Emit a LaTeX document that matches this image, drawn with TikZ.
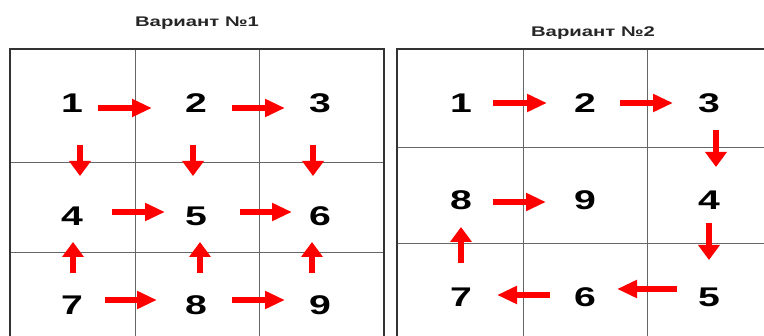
\documentclass[tikz,border=0pt]{standalone}
\usepackage{fontspec}
\usepackage{tikz}
\usetikzlibrary{arrows.meta}
\newfontfamily\varfont{Liberation Sans}[FakeStretch=1.45]

\tikzset{
  num/.style={font=\varfont\bfseries\fontsize{27}{27}\selectfont, inner sep=0pt},
  ttl/.style={font=\varfont\bfseries\fontsize{14}{14}\selectfont, text=black!85, inner sep=0pt},
  harr/.style={draw=red, line width=6pt, -{Triangle[length=20pt,width=17pt]}},
  varr/.style={draw=red, line width=6pt, -{Triangle[length=15pt,width=21pt]}},
  outer/.style={draw=black!80, line width=1.6pt},
  inner/.style={draw=black!60, line width=0.8pt}
}

\begin{document}
\begin{tikzpicture}[x=1pt,y=-1pt]
      \useasboundingbox (0,0) rectangle (764,336);
      \clip (0,0) rectangle (764,336);
      % grid, variant 1
      \draw [inner] (135,49) -- (135,340) (259,49) -- (259,340);
      \draw [inner] (10,162) -- (384,162) (10,252) -- (384,252);
      \draw [outer] (10,340) -- (10,49) -- (384,49) -- (384,340);
      % grid, variant 2
      \draw [inner] (523,49) -- (523,340) (647,49) -- (647,340);
      \draw [inner] (397,147) -- (770,147) (397,243) -- (770,243);
      \draw [outer] (397,340) -- (397,49) -- (770,49);
      % titles
      \node [ttl] (T1) at (197,23) {Вариант №1};
      \node [ttl] (T2) at (593,33) {Вариант №2};
      % variant 1
      \node [num] (a1) at (72,103) {1};
      \node [num] (a2) at (196,103) {2};
      \node [num] (a3) at (320,103) {3};
      \node [num] (a4) at (72,216) {4};
      \node [num] (a5) at (196,216) {5};
      \node [num] (a6) at (320,216) {6};
      \node [num] (a7) at (72,305) {7};
      \node [num] (a8) at (196,305) {8};
      \node [num] (a9) at (320,305) {9};
      \draw [harr] ([shift={(26,5)}]a1.center) to ([shift={(-44,5)}]a2.center);
      \draw [harr] ([shift={(36,5)}]a2.center) to ([shift={(-35,5)}]a3.center);
      \draw [varr] ([shift={(8,42)}]a1.center) to ([shift={(8,-40)}]a4.center);
      \draw [varr] ([shift={(-3,42)}]a2.center) to ([shift={(-3,-40)}]a5.center);
      \draw [varr] ([shift={(-7,42)}]a3.center) to ([shift={(-7,-40)}]a6.center);
      \draw [harr] ([shift={(40,-4)}]a4.center) to ([shift={(-31,-4)}]a5.center);
      \draw [harr] ([shift={(44,-4)}]a5.center) to ([shift={(-28,-4)}]a6.center);
      \draw [varr] ([shift={(1,-32)}]a7.center) to ([shift={(1,26)}]a4.center);
      \draw [varr] ([shift={(4,-32)}]a8.center) to ([shift={(4,26)}]a5.center);
      \draw [varr] ([shift={(-8,-32)}]a9.center) to ([shift={(-8,26)}]a6.center);
      \draw [harr] ([shift={(33,-5)}]a7.center) to ([shift={(-39,-5)}]a8.center);
      \draw [harr] ([shift={(36,-5)}]a8.center) to ([shift={(-35,-5)}]a9.center);
      % variant 2
      \node [num] (b1) at (461,103) {1};
      \node [num] (b2) at (585,103) {2};
      \node [num] (b3) at (709,103) {3};
      \node [num] (b8) at (461,200) {8};
      \node [num] (b9) at (585,200) {9};
      \node [num] (b4) at (709,200) {4};
      \node [num] (b7) at (461,297) {7};
      \node [num] (b6) at (585,297) {6};
      \node [num] (b5) at (709,297) {5};
      \draw [harr] ([shift={(32,0)}]b1.center) to ([shift={(-38,0)}]b2.center);
      \draw [harr] ([shift={(35,0)}]b2.center) to ([shift={(-36,0)}]b3.center);
      \draw [varr] ([shift={(7,27)}]b3.center) to ([shift={(7,-33)}]b4.center);
      \draw [varr] ([shift={(0,23)}]b4.center) to ([shift={(0,-37)}]b5.center);
      \draw [harr] ([shift={(-32,-8)}]b5.center) to ([shift={(32,-8)}]b6.center);
      \draw [harr] ([shift={(-35,-2)}]b6.center) to ([shift={(36,-2)}]b7.center);
      \draw [varr] ([shift={(0,-34)}]b7.center) to ([shift={(0,27)}]b8.center);
      \draw [harr] ([shift={(32,2)}]b8.center) to ([shift={(-39,2)}]b9.center);
    \end{tikzpicture}
\end{document}
